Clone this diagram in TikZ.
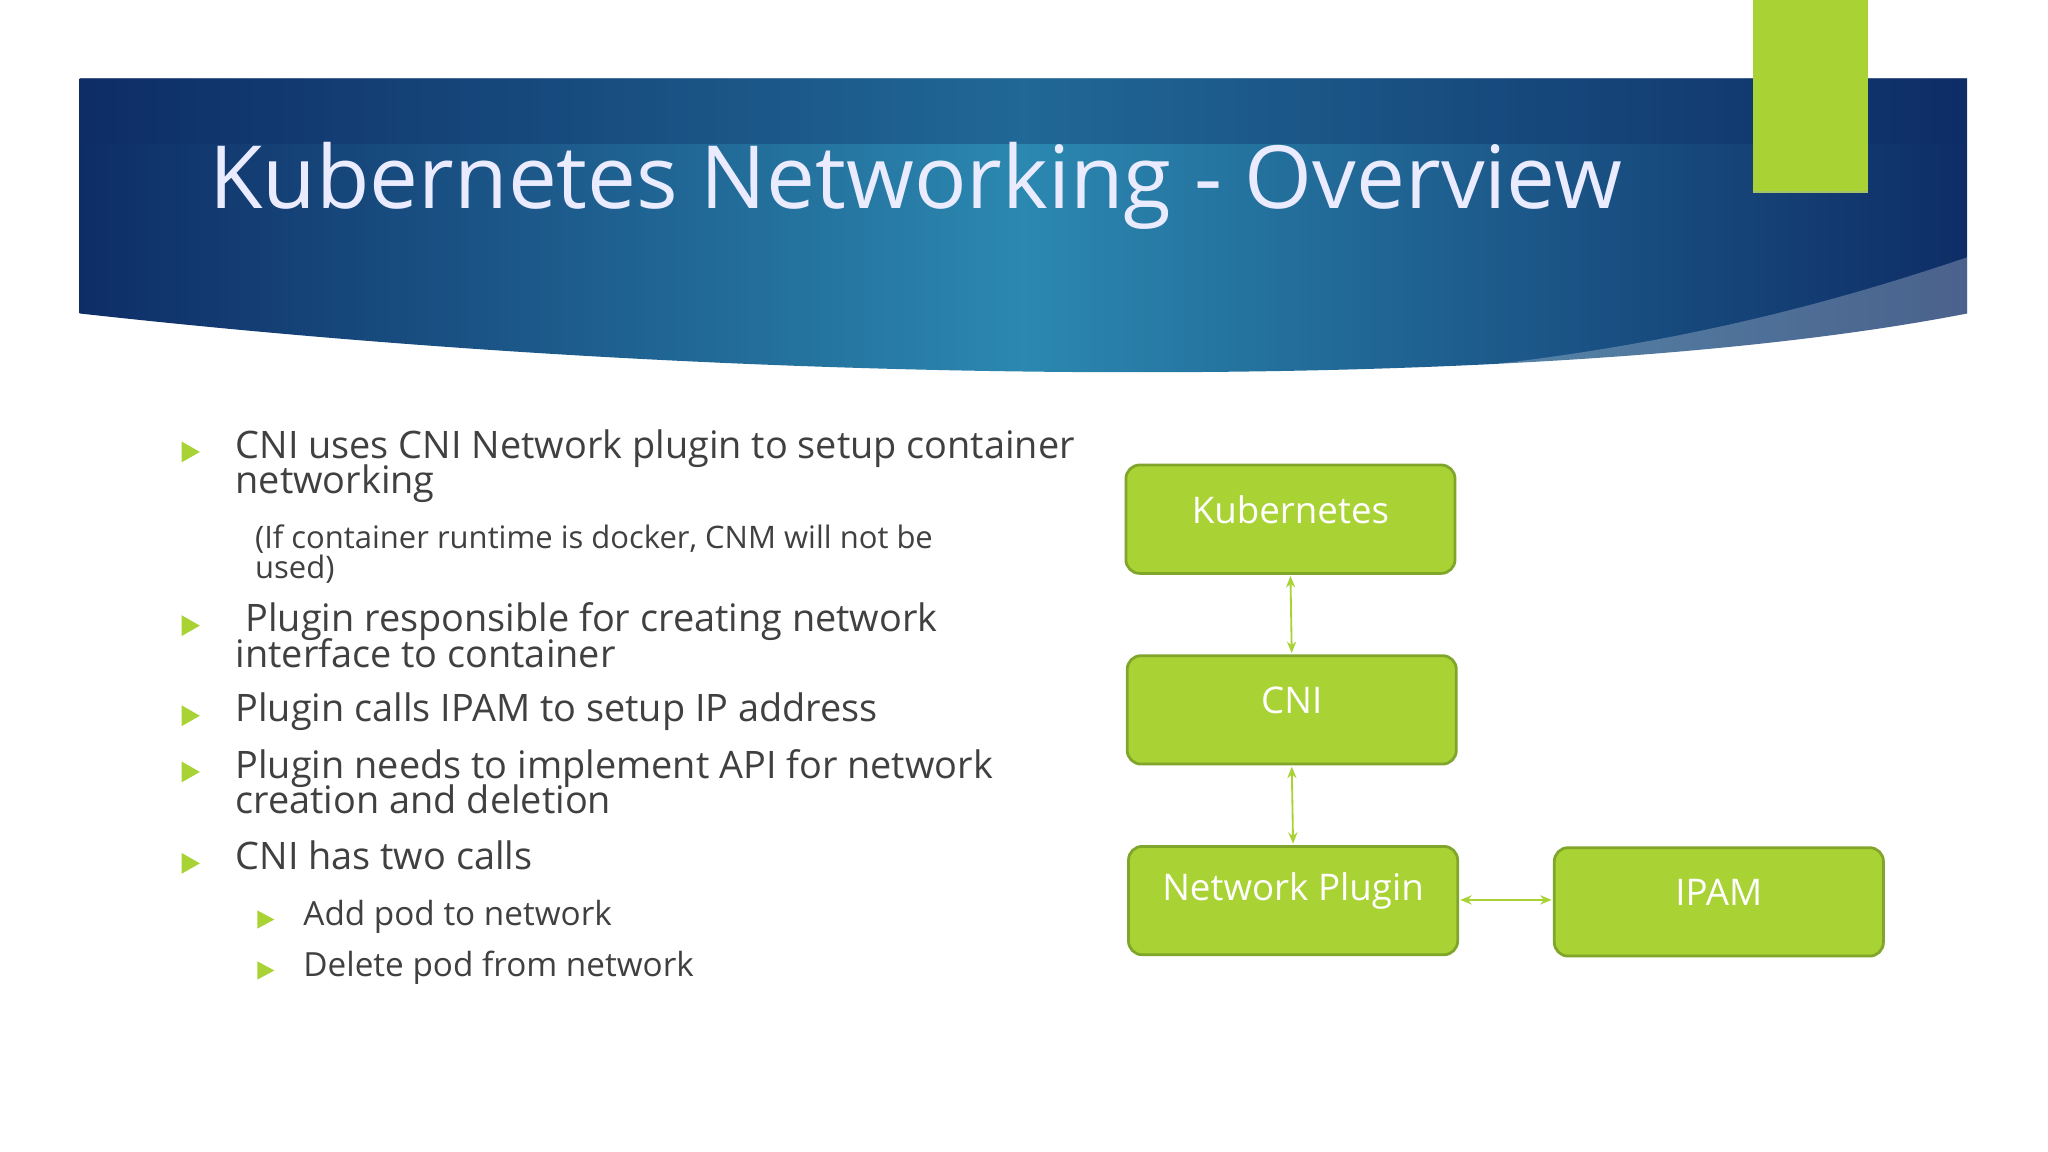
\documentclass[tikz,border=0pt]{standalone}
\usepackage{fontspec}
\setmainfont{Open Sans}
\usetikzlibrary{arrows.meta}
\definecolor{kgreen}{HTML}{A9D234}
\definecolor{kgreenD}{HTML}{7FA62A}
\definecolor{ktext}{HTML}{404040}
\definecolor{bdark}{HTML}{0E2D66}
\definecolor{bmid}{HTML}{2B88B0}
\begin{document}
\begin{tikzpicture}[x=0.02cm,y=-0.02cm,
  box/.style={draw=kgreenD,line width=1.2pt,fill=kgreen,rounded corners=6pt,minimum width=252\pgflinewidth,text=white,font=\fontsize{16}{18}\selectfont},
  conn/.style={kgreen,line width=0.8pt,{Stealth[length=5pt,width=4pt]}-{Stealth[length=5pt,width=4pt]}},
  bul/.style={fill=kgreen,draw=none},
  txt/.style={anchor=mid west,text=ktext,font=\fontsize{16.5}{18}\selectfont,inner sep=0pt},
  sub/.style={anchor=mid west,text=ktext,font=\fontsize{13.5}{15}\selectfont,inner sep=0pt}]
\useasboundingbox (0,0) rectangle (1568,882);
\fill[white] (0,0) rectangle (1568,882);
% header band
\shade[left color=bdark,right color=bdark,middle color=bmid]
  (61,60) -- (1506,60) -- (1506,240) .. controls (1200,300) and (600,300) .. (61,240) -- cycle;
\fill[bdark,opacity=0.35] (61,60) rectangle (1506,110);
\fill[white,opacity=0.25] (1506,197) .. controls (1350,250) and (1200,280) .. (1000,291)
  .. controls (1200,288) and (1400,265) .. (1506,240) -- cycle;
\node[anchor=mid west,text=white!92!blue,font=\fontsize{38}{40}\selectfont,inner sep=0pt] (title) at (160,155) {Kubernetes Networking - Overview};
\fill[kgreen] (1342,0) rectangle (1430,147);
\draw[kgreenD!70,line width=0.6pt] (1342,147) -- (1430,147);
% bullets
\foreach \y in {346,479,548,591,661}{\fill[bul] (139,\y-8) -- (153,\y) -- (139,\y+8) -- cycle;}
\foreach \y in {704,743}{\fill[bul] (197,\y-7) -- (210,\y) -- (197,\y+7) -- cycle;}
\node[txt] (t1) at (180,346) {CNI uses CNI Network plugin to setup container};
\node[txt] (t1b) at (180,373) {networking};
\node[sub] (s1) at (195,415) {(If container runtime is docker, CNM will not be};
\node[sub] (s1b) at (195,438) {used)};
\node[txt] (t2) at (180,479) {\ Plugin responsible for creating network};
\node[txt] (t2b) at (180,506) {interface to container};
\node[txt] (t3) at (180,548) {Plugin calls IPAM to setup IP address};
\node[txt] (t4) at (180,591) {Plugin needs to implement API for network};
\node[txt] (t4b) at (180,618) {creation and deletion};
\node[txt] (t5) at (180,661) {CNI has two calls};
\node[sub,font=\fontsize{14.5}{16}\selectfont] (u1) at (232,704) {Add pod to network};
\node[sub,font=\fontsize{14.5}{16}\selectfont] (u2) at (232,743) {Delete pod from network};
% boxes
\draw[box] (862,356) rectangle (1114,439);
\draw[box] (863,502) rectangle (1115,585);
\draw[box] (864,648) rectangle (1116,731);
\draw[box] (1190,649) rectangle (1442,732);
\node[text=white,font=\fontsize{16}{18}\selectfont] (k) at (988,390) {Kubernetes};
\node[text=white,font=\fontsize{16}{18}\selectfont] (c) at (989,536) {CNI};
\node[text=white,font=\fontsize{16}{18}\selectfont] (n) at (990,682) {Network Plugin};
\node[text=white,font=\fontsize{16}{18}\selectfont] (i) at (1316,683) {IPAM};
\coordinate (k1) at (988,441); \coordinate (c0) at (989,500);
\coordinate (c1) at (989,587); \coordinate (n0) at (990,646);
\coordinate (n1) at (1118,689); \coordinate (i0) at (1188,689);
\draw[conn] (k1) -- (c0);
\draw[conn] (c1) -- (n0);
\draw[conn] (n1) -- (i0);
\end{tikzpicture}
\end{document}
